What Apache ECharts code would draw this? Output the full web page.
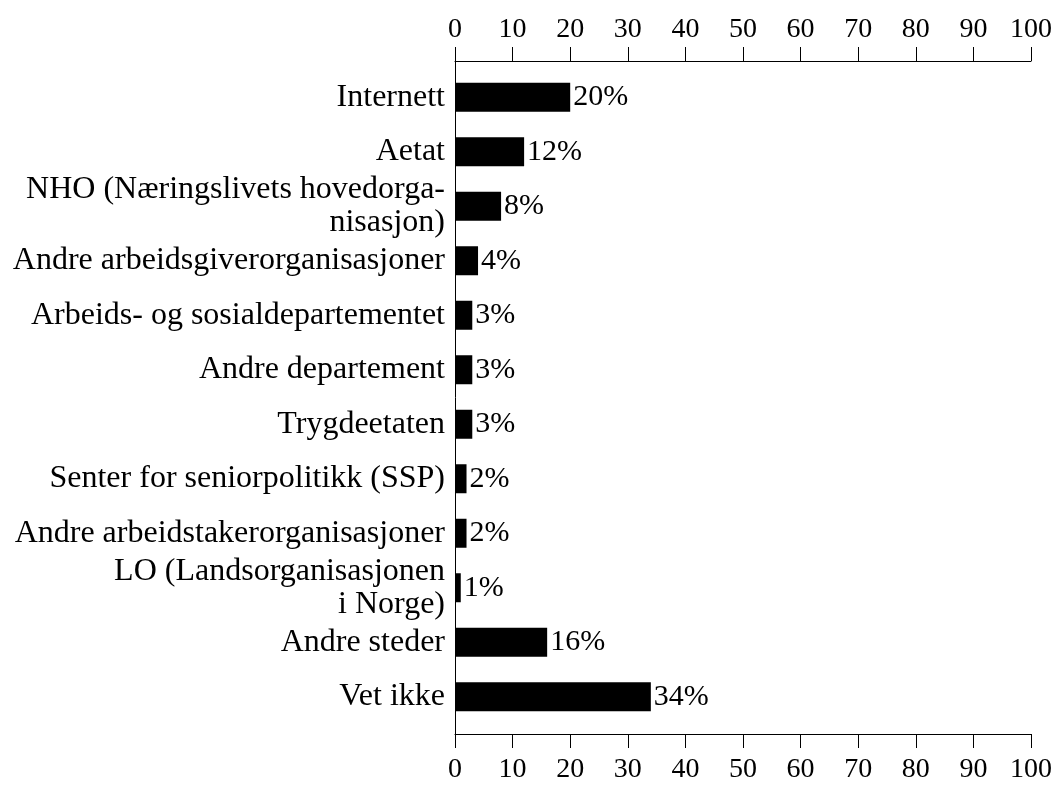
<!DOCTYPE html>
<html>
<head>
<meta charset="utf-8">
<script src="https://cdn.jsdelivr.net/npm/echarts@6/dist/echarts.min.js"></script>
<style>
html, body { margin: 0; padding: 0; background: #fff; }
#chart { width: 1059px; height: 787px; }
</style>
</head>
<body>
<div id="chart"></div>
<script>
var categories = [
	'Internett',
	'Aetat',
	'NHO (Næringslivets hovedorga-\nnisasjon)',
	'Andre arbeidsgiverorganisasjoner',
	'Arbeids- og sosialdepartementet',
	'Andre departement',
	'Trygdeetaten',
	'Senter for seniorpolitikk (SSP)',
	'Andre arbeidstakerorganisasjoner',
	'LO (Landsorganisasjonen\ni Norge)',
	'Andre steder',
	'Vet ikke'
];
var values = [20, 12, 8, 4, 3, 3, 3, 2, 2, 1, 16, 34];
var tickMin = 0, tickMax = 100, tickStep = 10;

var font = '"Liberation Serif", "Times New Roman", serif';
var chart = echarts.init(document.getElementById('chart'));

var left = 455, right = 1059 - 1031;

var valueAxis = function (pos, grid, show, margin) {
	return {
		type: 'value', gridIndex: grid, position: pos,
		min: tickMin, max: tickMax, interval: tickStep,
		axisLine: { show: show, onZero: false, lineStyle: { color: '#000', width: 1 } },
		axisTick: { show: show, inside: false, length: 14, lineStyle: { color: '#000', width: 1 } },
		axisLabel: { show: show, color: '#000', fontFamily: font, fontSize: 28, margin: margin },
		splitLine: { show: false }
	};
};

var option = {
	animation: false,
	backgroundColor: '#fff',
	grid: [
		{ left: left, right: right, top: 61, bottom: 787 - 734 },
		{ left: left, right: right, top: 70, bottom: 787 - 724 }
	],
	xAxis: [
		valueAxis('top', 0, true, 17),
		valueAxis('bottom', 0, true, 22),
		valueAxis('bottom', 1, false, 0)
	],
	yAxis: [
		{
			type: 'category', gridIndex: 0, data: [''],
			axisLine: { show: true, lineStyle: { color: '#000' } },
			axisTick: { show: false }, axisLabel: { show: false }
		},
		{
			type: 'category', gridIndex: 1, data: categories, inverse: true,
			axisLine: { show: false }, axisTick: { show: false },
			axisLabel: {
				color: '#000', fontFamily: font, fontSize: 32, lineHeight: 33,
				margin: 10, align: 'right'
			}
		}
	],
	series: [{
		type: 'bar', xAxisIndex: 2, yAxisIndex: 1,
		data: values, barWidth: 29,
		itemStyle: { color: '#000' },
		label: {
			show: true, position: 'right', distance: 3, formatter: '{c}%',
			color: '#000', fontFamily: font, fontSize: 30
		}
	}]
};
chart.setOption(option);
</script>
</body>
</html>
